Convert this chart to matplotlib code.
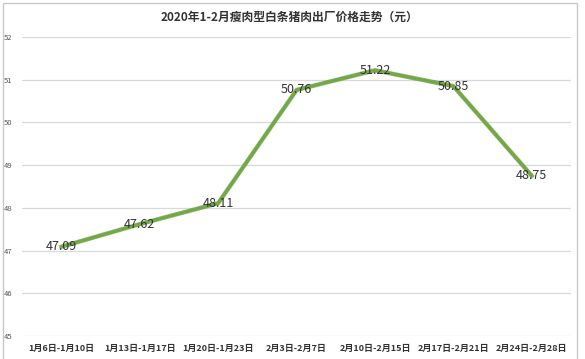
import matplotlib.pyplot as plt
from matplotlib.patches import Rectangle

plt.rcParams['font.family'] = ['Noto Sans CJK SC', 'DejaVu Sans']

periods = ['1月6日-1月10日', '1月13日-1月17日', '1月20日-1月23日', '2月3日-2月7日',
           '2月10日-2月15日', '2月17日-2月21日', '2月24日-2月28日']
prices = [47.09, 47.62, 48.11, 50.76, 51.22, 50.85, 48.75]
y_ticks = [45, 46, 47, 48, 49, 50, 51, 52]

fig = plt.figure(figsize=(5.85, 3.59), dpi=100)
ax = fig.add_axes([0.038, 0.064, 0.938, 0.833])

x = list(range(len(periods)))
# darker underline gives the slight shadow seen on the Excel line
ax.plot(x, prices, color='#5e8f38', lw=3.2, alpha=0.6, zorder=2)
ax.plot(x, prices, color='#72a845', lw=2.4, solid_capstyle='round', zorder=3)
for xi, v in zip(x, prices):
    ax.text(xi, v, f'{v:.2f}', ha='center', va='center', fontsize=9,
            color='#333333', zorder=4)

ax.set_xlim(-0.5, len(periods) - 0.5)
ax.set_ylim(45, 52)
ax.set_yticks(y_ticks)
ax.set_yticklabels([str(t) for t in y_ticks], fontsize=5.5, color='#555555')
ax.set_xticks(x)
ax.set_xticklabels(periods, fontsize=6.5, fontweight='bold', color='#333333')
ax.tick_params(length=0, axis='y', pad=7)
ax.tick_params(length=0, axis='x', pad=6)
ax.grid(axis='y', color='#d9d9d9', lw=0.9)
ax.set_axisbelow(True)
for s in ax.spines.values():
    s.set_visible(False)

fig.text(0.495, 0.953, '2020年1-2月瘦肉型白条猪肉出厂价格走势（元）', ha='center',
         va='center', fontsize=8.5, fontweight='bold', color='#333333')

fig.patches.append(Rectangle((0.005, -0.1), 0.981, 1.092, transform=fig.transFigure,
                             fill=False, edgecolor='#c8c8c8', lw=1))

fig.savefig('out.png', dpi=100)
